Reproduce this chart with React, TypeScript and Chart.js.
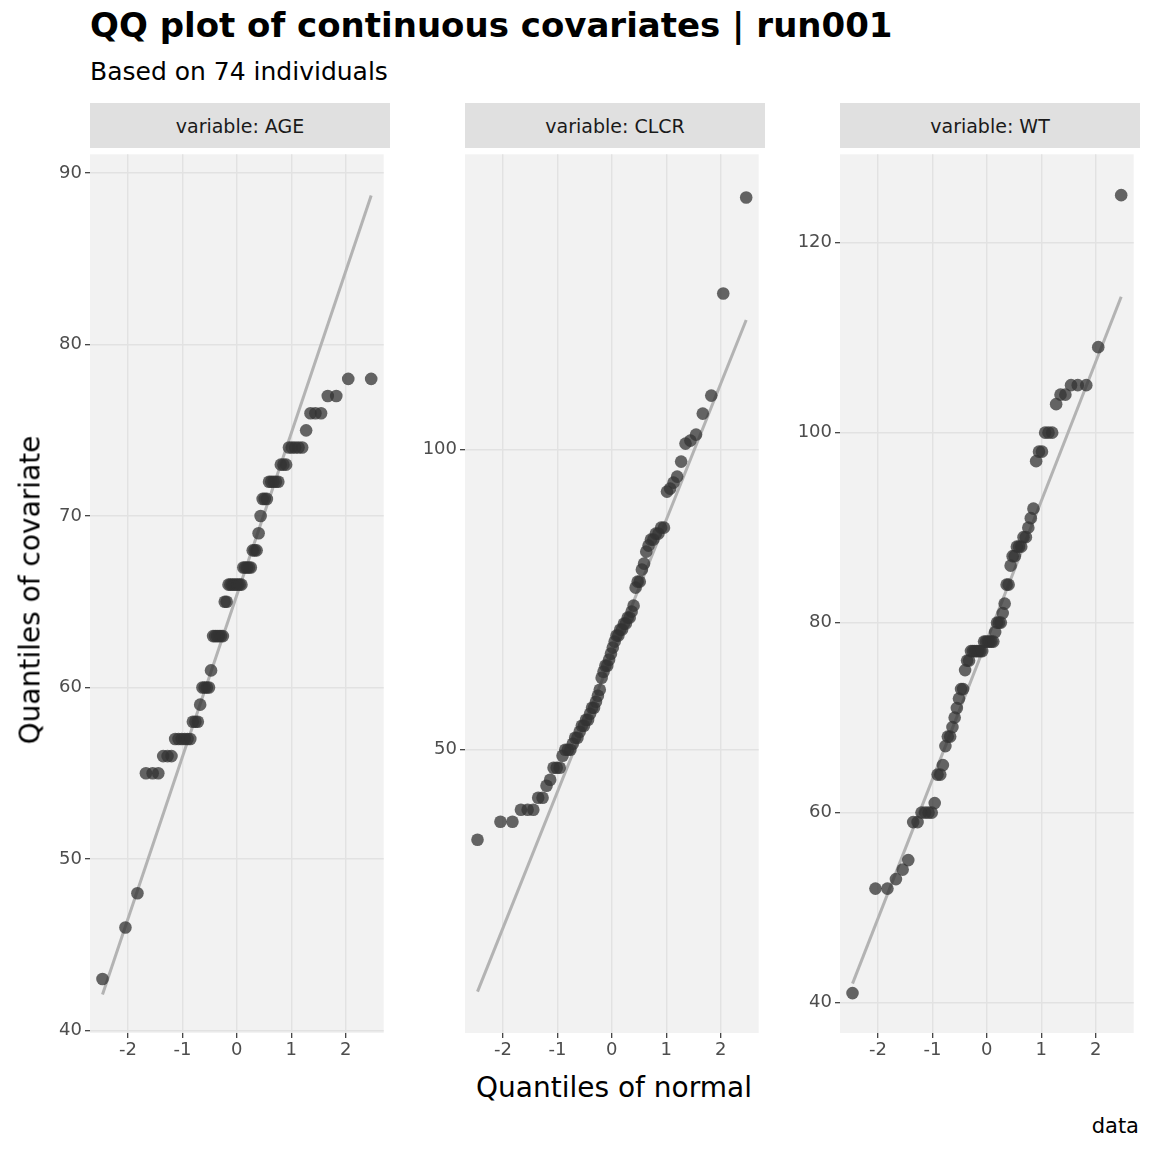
import React, { useEffect, useRef } from "react";
import Chart from "chart.js/auto";

// sorted covariate values (74 individuals each)
const ageValues = [43, 46, 48, 55, 55, 55, 56, 56, 56, 57, 57, 57, 57, 57, 57, 58, 58, 58, 59, 60, 60, 60, 60, 61, 63, 63, 63, 63, 63, 63, 65, 65, 66, 66, 66, 66, 66, 66, 66, 66, 67, 67, 67, 67, 67, 68, 68, 68, 69, 70, 71, 71, 71, 72, 72, 72, 72, 72, 73, 73, 73, 74, 74, 74, 74, 74, 75, 76, 76, 76, 77, 77, 78, 78];
const clcrValues = [35, 38, 38, 40, 40, 40, 42, 42, 44, 45, 47, 47, 47, 49, 50, 50, 50, 51, 52, 52, 53, 54, 54, 55, 55, 56, 57, 57, 58, 59, 60, 62, 63, 64, 64, 65, 66, 67, 68, 69, 69, 70, 70, 71, 71, 72, 72, 73, 74, 77, 78, 78, 80, 81, 83, 84, 85, 85, 86, 86, 87, 87, 93, 93.5, 94.5, 95.5, 98, 101, 101.5, 102.5, 106, 109, 126, 142];
const wtValues = [41, 52, 52, 53, 54, 55, 59, 59, 60, 60, 60, 60, 61, 64, 64, 65, 67, 68, 68, 69, 70, 71, 72, 73, 73, 75, 76, 76, 77, 77, 77, 77, 77, 77, 77, 78, 78, 78, 78, 78, 78, 79, 80, 80, 80, 81, 82, 84, 84, 86, 87, 87, 88, 88, 88, 89, 89, 90, 91, 92, 97, 98, 98, 100, 100, 100, 103, 104, 104, 105, 105, 105, 109, 125];

// reference line end points
const lineX = [-2.47, 2.47];
const ageLine = [42.1, 88.7];
const clcrLine = [9.7, 121.6];
const wtLine = [42.0, 114.3];

const xTicks = [-2, -1, 0, 1, 2];
const ageTicks = [40, 50, 60, 70, 80, 90];
const clcrTicks = [50, 100];
const wtTicks = [40, 60, 80, 100, 120];

// theoretical normal quantiles (ppoints) for the x axis
function qnorm(p: number): number {
  const a = [-39.6968302866538, 220.946098424521, -275.928510446969, 138.357751867269, -30.6647980661472, 2.50662827745924];
  const b = [-54.4760987982241, 161.585836858041, -155.698979859887, 66.8013118877197, -13.2806815528857];
  const c = [-0.00778489400243029, -0.322396458041136, -2.40075827716184, -2.54973253934373, 4.37466414146497, 2.93816398269878];
  const d = [0.00778469570904146, 0.32246712907004, 2.445134137143, 3.75440866190742];
  const pl = 0.02425;
  if (p < pl) {
    const q = Math.sqrt(-2 * Math.log(p));
    return (((((c[0] * q + c[1]) * q + c[2]) * q + c[3]) * q + c[4]) * q + c[5]) / ((((d[0] * q + d[1]) * q + d[2]) * q + d[3]) * q + 1);
  }
  if (p > 1 - pl) return -qnorm(1 - p);
  const q = p - 0.5;
  const r = q * q;
  return (((((a[0] * r + a[1]) * r + a[2]) * r + a[3]) * r + a[4]) * r + a[5]) * q / (((((b[0] * r + b[1]) * r + b[2]) * r + b[3]) * r + b[4]) * r + 1);
}

const FONT = "'DejaVu Sans', sans-serif";

interface FacetProps {
  name: string;
  values: number[];
  line: number[];
  ticks: number[];
  yMin: number;
  yMax: number;
  left: number;
}

const PANEL_TOP = 148;
const PANEL_BOTTOM = 1033;
const AXIS_W = 50;
const PANEL_W = 300;
const X_AXIS_H = 32;

function Facet({ name, values, line, ticks, yMin, yMax, left }: FacetProps) {
  const ref = useRef<HTMLCanvasElement>(null);

  useEffect(() => {
    if (!ref.current) return;
    const n = values.length;
    const points = values.map((v, i) => ({ x: qnorm((i + 0.5) / n), y: v }));
    const grid = { color: "#e2e2e2", lineWidth: 1.4, tickLength: 5, tickColor: "#333", tickWidth: 1.2 };
    const tickFont = { family: FONT, size: 18 };
    const chart = new Chart(ref.current, {
      type: "scatter",
      data: {
        datasets: [
          {
            type: "line",
            data: lineX.map((x, i) => ({ x, y: line[i] })),
            borderColor: "#b3b3b3",
            borderWidth: 3,
            pointRadius: 0,
            order: 1,
          },
          {
            data: points,
            backgroundColor: "rgba(51,51,51,0.75)",
            borderWidth: 0,
            pointRadius: 6.3,
            order: 0,
          },
        ],
      },
      options: {
        animation: false,
        responsive: false,
        layout: { padding: 0 },
        plugins: { legend: { display: false }, tooltip: { enabled: false } },
        scales: {
          x: {
            type: "linear",
            min: -2.7,
            max: 2.7,
            afterBuildTicks: (s: any) => { s.ticks = xTicks.map((v) => ({ value: v })); },
            afterFit: (s: any) => { s.height = X_AXIS_H; s.paddingLeft = 0; s.paddingRight = 0; },
            grid,
            border: { display: false },
            ticks: { color: "#4d4d4d", font: tickFont, padding: 2, callback: (v: any) => String(v) },
          },
          y: {
            type: "linear",
            min: yMin,
            max: yMax,
            afterBuildTicks: (s: any) => { s.ticks = ticks.map((v) => ({ value: v })); },
            afterFit: (s: any) => { s.width = AXIS_W; s.paddingTop = 0; s.paddingBottom = 0; },
            grid,
            border: { display: false },
            ticks: { color: "#4d4d4d", font: tickFont, padding: 3, callback: (v: any) => String(v) },
          },
        },
      },
      plugins: [
        {
          id: "panelBg",
          beforeDraw: (c: any) => {
            const { ctx, chartArea } = c;
            ctx.save();
            ctx.fillStyle = "#f2f2f2";
            ctx.fillRect(chartArea.left, chartArea.top, chartArea.right - chartArea.left, chartArea.bottom - chartArea.top);
            ctx.restore();
          },
        },
      ],
    } as any);
    return () => chart.destroy();
  }, [values, line, ticks, yMin, yMax]);

  return (
    <>
      <div
        style={{
          position: "absolute",
          left: left + AXIS_W,
          top: 103,
          width: PANEL_W,
          height: 45,
          background: "#e0e0e0",
          color: "#1a1a1a",
          font: `19px ${FONT}`,
          display: "flex",
          alignItems: "center",
          justifyContent: "center",
        }}
      >
        variable: {name}
      </div>
      <canvas
        ref={ref}
        width={AXIS_W + PANEL_W}
        height={PANEL_BOTTOM - PANEL_TOP + X_AXIS_H}
        style={{ position: "absolute", left, top: PANEL_TOP }}
      />
    </>
  );
}

export default function App() {
  useEffect(() => {
    document.body.style.margin = "0";
  }, []);

  return (
    <div style={{ position: "relative", width: 1152, height: 1152, background: "#fff", fontFamily: FONT }}>
      <div style={{ position: "absolute", left: 90, top: 5, font: `bold 34px ${FONT}`, color: "#000" }}>
        QQ plot of continuous covariates | run001
      </div>
      <div style={{ position: "absolute", left: 90, top: 57, font: `25px ${FONT}`, color: "#000" }}>
        Based on 74 individuals
      </div>
      <Facet name="AGE" values={ageValues} line={ageLine} ticks={ageTicks} yMin={39.85} yMax={91.1} left={40} />
      <Facet name="CLCR" values={clcrValues} line={clcrLine} ticks={clcrTicks} yMin={2.8} yMax={149.2} left={415} />
      <Facet name="WT" values={wtValues} line={wtLine} ticks={wtTicks} yMin={36.8} yMax={129.3} left={790} />
      <div
        style={{
          position: "absolute",
          left: 30,
          top: 590,
          transform: "translate(-50%, -50%) rotate(-90deg)",
          font: `28px ${FONT}`,
          whiteSpace: "nowrap",
          color: "#000",
        }}
      >
        Quantiles of covariate
      </div>
      <div
        style={{
          position: "absolute",
          left: 614,
          top: 1087,
          transform: "translate(-50%, -50%)",
          font: `28px ${FONT}`,
          whiteSpace: "nowrap",
          color: "#000",
        }}
      >
        Quantiles of normal
      </div>
      <div style={{ position: "absolute", right: 13, top: 1114, font: `21px ${FONT}`, color: "#000" }}>data</div>
    </div>
  );
}
